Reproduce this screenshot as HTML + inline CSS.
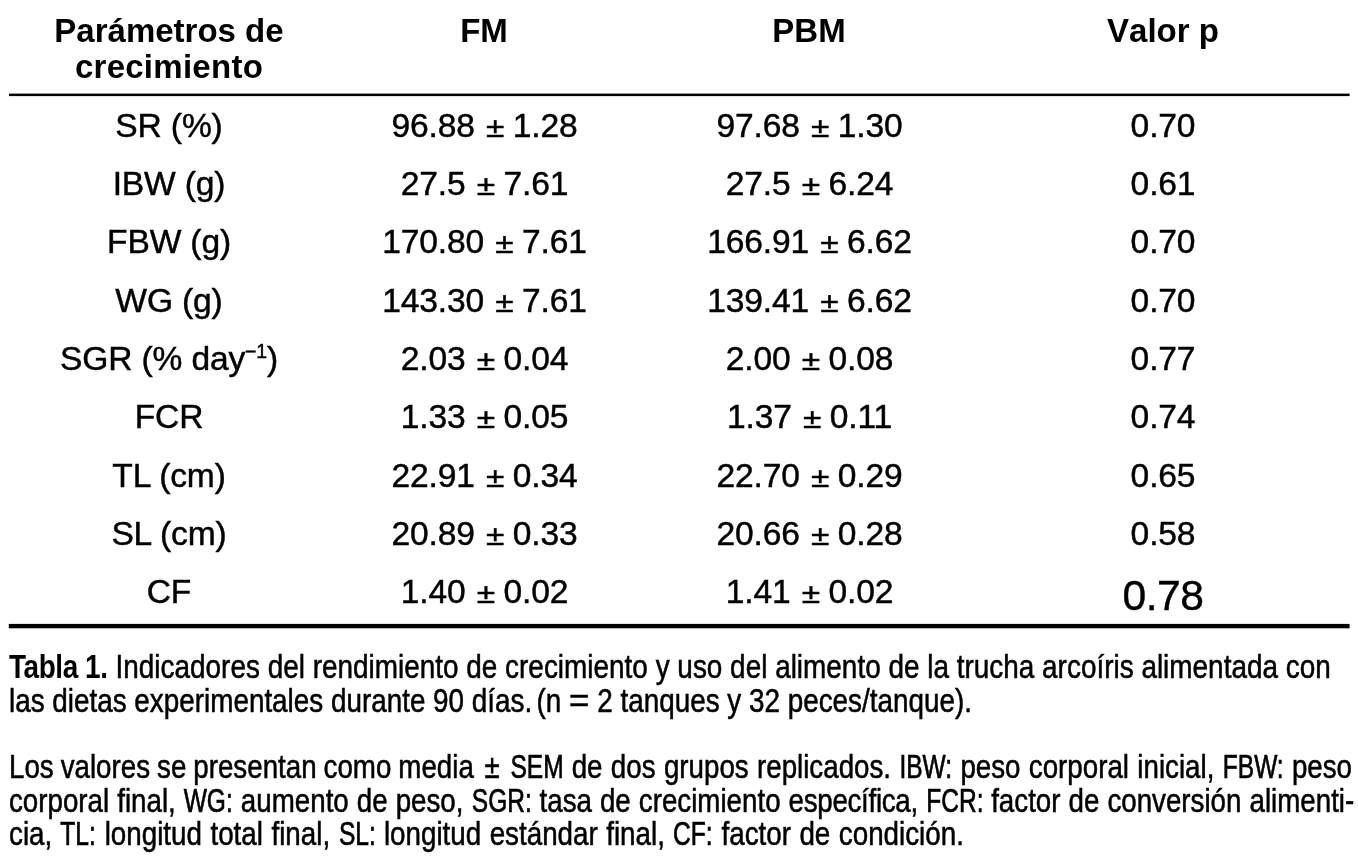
<!DOCTYPE html>
<html lang="es">
<head>
<meta charset="utf-8">
<title>Tabla 1</title>
<style>
html,body{margin:0;padding:0;background:#fff;}
body{width:1358px;height:863px;position:relative;overflow:hidden;color:#000;
  font-family:"Liberation Sans",Arial,Helvetica,sans-serif;}
svg.rules{position:absolute;left:0;top:0;}
table{position:absolute;left:9px;top:0;width:1338px;border-collapse:collapse;table-layout:fixed;}
th,td{padding:0;margin:0;white-space:nowrap;text-align:center;vertical-align:top;overflow:visible;}
th{font-weight:bold;font-size:33px;line-height:36.3px;font-kerning:none;height:96px;padding-top:13px;box-sizing:border-box;}
td{font-size:33.6px;line-height:40px;padding-top:10px;box-sizing:border-box;-webkit-text-stroke:0.45px #000;letter-spacing:-0.15px;}
td .pm{display:inline-block;transform:scaleY(0.85);transform-origin:50% 81%;margin-left:2px;margin-right:-0.7px;}
td.n{padding-left:1px;}
td .big{font-size:42.6px;letter-spacing:-0.5px;position:relative;top:2.5px;}
th .l2{letter-spacing:0.27px;}
sup{font-size:58%;line-height:0;vertical-align:baseline;position:relative;top:-0.6em;}
.cap{position:absolute;margin:0;white-space:nowrap;font-size:33px;line-height:40px;height:40px;transform-origin:0 0;-webkit-text-stroke:0.55px #000;}
.cap i.ab{font-style:normal;display:inline-block;transform-origin:0 50%;transform:scaleX(0.885);-webkit-text-stroke:0.7px #000;}
.cap .pm{margin:0 2.5px 0 4.5px;}
.cap .eq{display:inline-block;transform:scaleX(1.25);margin:0 2.5px;}
.cap .ns{word-spacing:-4px;}
.cap b{-webkit-text-stroke:0;letter-spacing:-0.5px;margin-right:0.3px;}
</style>
</head>
<body>
<svg class="rules" width="1358" height="863" aria-hidden="true">
<rect x="9" y="93.6" width="1340.6" height="2.5" fill="#000"/>
<rect x="8.8" y="623.9" width="1340.8" height="4.4" fill="#000"/>
</svg>
<table>
<colgroup><col style="width:320px"><col style="width:310px"><col style="width:340px"><col style="width:368px"></colgroup>
<thead>
<tr><th>Parámetros de<br><span class="l2">crecimiento</span></th><th>FM</th><th>PBM</th><th>Valor p</th></tr>
</thead>
<tbody>
<tr style="height:58px"><td>SR (%)</td><td class="n">96.88 <span class="pm">±</span> 1.28</td><td class="n">97.68 <span class="pm">±</span> 1.30</td><td>0.70</td></tr>
<tr style="height:58px"><td>IBW (g)</td><td class="n">27.5 <span class="pm">±</span> 7.61</td><td class="n">27.5 <span class="pm">±</span> 6.24</td><td>0.61</td></tr>
<tr style="height:59px"><td>FBW (g)</td><td class="n">170.80 <span class="pm">±</span> 7.61</td><td class="n">166.91 <span class="pm">±</span> 6.62</td><td>0.70</td></tr>
<tr style="height:58px"><td>WG (g)</td><td class="n">143.30 <span class="pm">±</span> 7.61</td><td class="n">139.41 <span class="pm">±</span> 6.62</td><td>0.70</td></tr>
<tr style="height:58px"><td>SGR (% day<sup>−1</sup>)</td><td class="n">2.03 <span class="pm">±</span> 0.04</td><td class="n">2.00 <span class="pm">±</span> 0.08</td><td>0.77</td></tr>
<tr style="height:59px"><td>FCR</td><td class="n">1.33 <span class="pm">±</span> 0.05</td><td class="n">1.37 <span class="pm">±</span> 0.11</td><td>0.74</td></tr>
<tr style="height:58px"><td>TL (cm)</td><td class="n">22.91 <span class="pm">±</span> 0.34</td><td class="n">22.70 <span class="pm">±</span> 0.29</td><td>0.65</td></tr>
<tr style="height:58px"><td>SL (cm)</td><td class="n">20.89 <span class="pm">±</span> 0.33</td><td class="n">20.66 <span class="pm">±</span> 0.28</td><td>0.58</td></tr>
<tr style="height:58px"><td>CF</td><td class="n">1.40 <span class="pm">±</span> 0.02</td><td class="n">1.41 <span class="pm">±</span> 0.02</td><td><span class="big">0.78</span></td></tr>
</tbody>
</table>
<div class="caption">
<p class="cap" style="top:647.17px;left:9.00px;transform:scaleX(0.8461);word-spacing:0.00px;"><b>Tabla 1.</b> Indicadores del rendimiento de crecimiento y uso del alimento de la trucha arcoíris alimentada con</p>
<p class="cap" style="top:680.97px;left:9.00px;transform:scaleX(0.8438);word-spacing:0.00px;">las dietas experimentales durante 90 días.<span class="ns"> </span>(n <span class="eq">=</span> 2 tanques y 32 peces/tanque).</p>
<p class="cap" style="top:746.77px;left:8.60px;transform:scaleX(0.8400);word-spacing:0.75px;"><span style="word-spacing:-0.85px">Los valores se presentan como media </span><span class="pm">±</span> <i class="ab" style="margin-right:-8.3px">SEM</i> de dos grupos replicados. <i class="ab" style="margin-right:-8.2px">IBW:</i> peso corporal inicial, <i class="ab" style="margin-right:-9.4px">FBW:</i> peso</p>
<p class="cap" style="top:780.67px;left:8.70px;transform:scaleX(0.8400);word-spacing:0.40px;">corporal final, <i class="ab" style="margin-right:-7.6px">WG:</i> aumento de peso, <i class="ab" style="margin-right:-9.3px">SGR:</i> tasa de crecimiento <span style="letter-spacing:-0.35px">específica,</span> <i class="ab" style="margin-right:-8.9px">FCR:</i> factor de conversión alimenti-</p>
<p class="cap" style="top:814.37px;left:8.70px;transform:scaleX(0.8416);word-spacing:0.91px;">cia, <i class="ab" style="margin-right:-5.5px">TL:</i> longitud total final, <i class="ab" style="margin-right:-5.8px">SL:</i> longitud estándar final, <i class="ab" style="margin-right:-6.1px">CF:</i> factor de condición.</p>
</div>
</body>
</html>
